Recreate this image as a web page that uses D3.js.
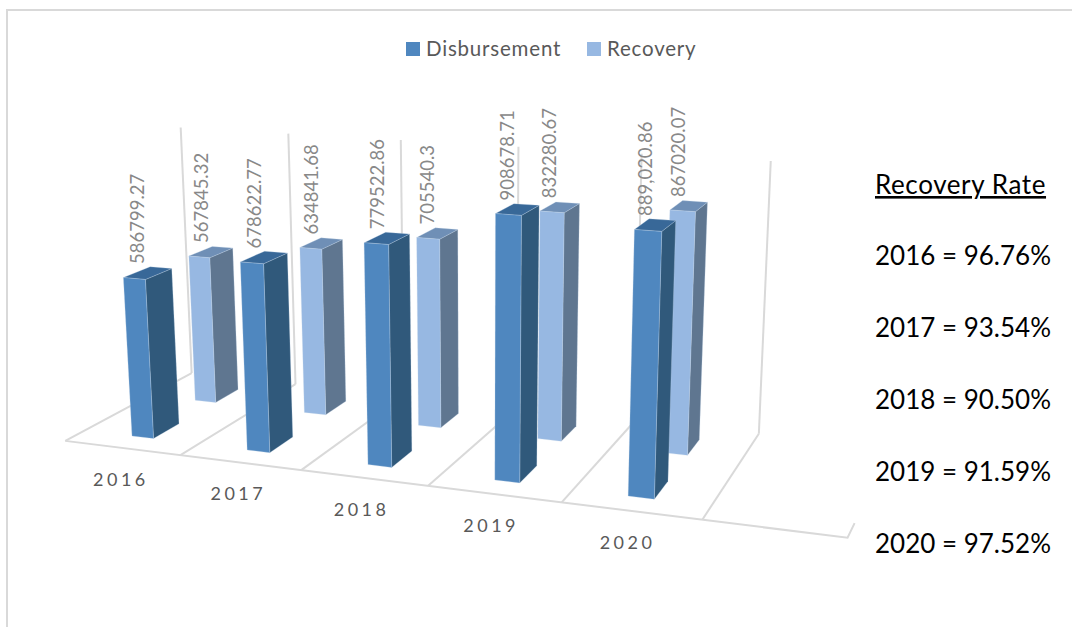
<!DOCTYPE html>
<meta charset='utf-8'>
<html>

<head>
    <title>Disbursement and Recovery</title>
    <script src="https://cdn.jsdelivr.net/npm/d3@7"></script>
    <style>
        body {
            padding: 0;
            margin: 0;
            background: #fff;
        }

        text {
            font-family: Lato, "Open Sans", sans-serif;
        }
    </style>
</head>

<body>
    <svg id="chart" width="1072" height="627"></svg>

    <script>
        const years = ['2016', '2017', '2018', '2019', '2020'];
        const seriesNames = ['Disbursement', 'Recovery'];
        const disbursement = [586799.27, 678622.77, 779522.86, 908678.71, 889020.86];
        const recovery = [567845.32, 634841.68, 705540.3, 832280.67, 867020.07];
        const disbursementLabels = ['586799.27', '678622.77', '779522.86', '908678.71', '889,020.86'];
        const recoveryLabels = ['567845.32', '634841.68', '705540.3', '832280.67', '867020.07'];
        const recoveryRates = ['96.76%', '93.54%', '90.50%', '91.59%', '97.52%'];

        const W = 1072, H = 627;
        const gridColor = '#d9d9d9';

        // colours of each series: front, side, top
        const faces = {
            Disbursement: { front: '#4f87bf', side: '#30597b', top: '#386898' },
            Recovery: { front: '#97b8e2', side: '#5f7690', top: '#6f8fb6' }
        };

        // world axes: x = category units, d = depth (0 front, 1 back), z = share of axis max
        var xScale = d3.scaleBand().domain(years).range([0, 4.98]);
        var zScale = d3.scaleLinear().domain([0, 1000000]).range([0, 1]);
        var depthStart = d3.scaleOrdinal().domain(seriesNames).range([0.14, 0.647]);
        const barDepth = 0.2;
        const barInset = 0.42, barWidth = 0.19;

        // where the chart frame lands on the page, used to fit the camera of the 3D view
        const frameFit = [
            [0, 0, 0, 65, 441], [1, 0, 0, 180, 454], [2, 0, 0, 302, 470],
            [3, 0, 0, 428, 486], [4, 0, 0, 563, 503], [5, 0, 0, 701, 520],
            [0, 1, 0, 192, 373], [1, 1, 0, 295, 385], [5, 1, 0, 759, 433],
            [0, 1, 1, 181, 128], [1, 1, 1, 288, 133], [2, 1, 1, 401, 140],
            [3, 1, 1, 518, 147], [5, 1, 1, 771, 161]
        ];

        function fitCamera(points) {
            var rows = [];
            points.forEach(function (p) {
                var X = p[0], Y = p[1], Z = p[2], u = p[3], v = p[4];
                rows.push([X, Y, Z, 1, 0, 0, 0, 0, -u * X, -u * Y, -u * Z, u]);
                rows.push([0, 0, 0, 0, X, Y, Z, 1, -v * X, -v * Y, -v * Z, v]);
            });
            // normal equations, then plain gaussian elimination
            var n = 11;
            var A = d3.range(n).map(function (i) {
                return d3.range(n + 1).map(function (j) {
                    return d3.sum(rows, function (r) { return r[i] * r[j]; });
                });
            });
            for (var c = 0; c < n; c++) {
                var best = c;
                for (var r = c + 1; r < n; r++) {
                    if (Math.abs(A[r][c]) > Math.abs(A[best][c])) best = r;
                }
                var tmp = A[c]; A[c] = A[best]; A[best] = tmp;
                for (var r2 = 0; r2 < n; r2++) {
                    if (r2 === c) continue;
                    var f = A[r2][c] / A[c][c];
                    for (var k = c; k <= n; k++) A[r2][k] -= f * A[c][k];
                }
            }
            return d3.range(n).map(function (i) { return A[i][n] / A[i][i]; });
        }

        const cam = fitCamera(frameFit);

        function project(x, d, z) {
            var w = cam[8] * x + cam[9] * d + cam[10] * z + 1;
            return [
                (cam[0] * x + cam[1] * d + cam[2] * z + cam[3]) / w,
                (cam[4] * x + cam[5] * d + cam[6] * z + cam[7]) / w
            ];
        }

        var svg = d3.select('#chart');
        var line = d3.line();

        // outer border of the chart area
        svg.append('path')
            .attr('d', line([[7, H], [7, 10], [W, 10]]))
            .attr('fill', 'none')
            .attr('stroke', gridColor)
            .attr('stroke-width', 2);

        // legend
        var legendX = d3.scaleOrdinal().domain(seriesNames).range([406, 587]);
        var legend = svg.selectAll('.legend')
            .data(seriesNames)
            .enter()
            .append('g')
            .attr('class', 'legend')
            .attr('transform', function (d) { return 'translate(' + legendX(d) + ',42)'; });
        legend.append('rect')
            .attr('width', 14)
            .attr('height', 14)
            .attr('fill', function (d) { return faces[d].front; });
        legend.append('text')
            .attr('x', 20)
            .attr('y', 14)
            .attr('font-size', 20.5)
            .attr('letter-spacing', 0.8)
            .attr('fill', '#595959')
            .text(function (d) { return d; });

        // frame: floor lines and back wall
        var frame = svg.append('g')
            .attr('fill', 'none')
            .attr('stroke', gridColor)
            .attr('stroke-width', 2);
        d3.range(0, 6).forEach(function (i) {
            frame.append('path').attr('d', line([project(i, 0, 0), project(i, 1, 0)]));
            frame.append('path').attr('d', line([project(i, 1, 0), project(i, 1, 1)]));
        });
        frame.append('path').attr('d', line([project(0, 0, 0), project(5.98, 0, 0), project(6.02, 0, 0.05)]));

        // category labels sit under the front edge
        svg.selectAll('.year')
            .data(years)
            .enter()
            .append('text')
            .attr('class', 'year')
            .attr('x', function (d) { return project(xScale(d) + xScale.bandwidth() / 2, 0, 0)[0] - 1; })
            .attr('y', function (d) { return project(xScale(d) + xScale.bandwidth() / 2, 0, 0)[1] + 38; })
            .attr('text-anchor', 'middle')
            .attr('font-size', 18)
            .attr('letter-spacing', 3.5)
            .attr('fill', '#595959')
            .text(function (d) { return d; });

        function barRows(name, values, labels) {
            return values.map(function (v, i) {
                return { name: name, year: years[i], value: v, label: labels[i] };
            });
        }

        // back row first so the front row paints over it
        var bars = barRows('Recovery', recovery, recoveryLabels)
            .concat(barRows('Disbursement', disbursement, disbursementLabels));

        function corners(b) {
            var x0 = xScale(b.year) + barInset, x1 = x0 + barWidth;
            var d0 = depthStart(b.name), d1 = d0 + barDepth;
            var z = zScale(b.value);
            return { x0: x0, x1: x1, d0: d0, d1: d1, z: z };
        }

        function facePath(b, side) {
            var c = corners(b);
            var pts;
            if (side === 'front') {
                pts = [project(c.x0, c.d0, 0), project(c.x1, c.d0, 0), project(c.x1, c.d0, c.z), project(c.x0, c.d0, c.z)];
            } else if (side === 'side') {
                pts = [project(c.x1, c.d0, 0), project(c.x1, c.d1, 0), project(c.x1, c.d1, c.z), project(c.x1, c.d0, c.z)];
            } else {
                pts = [project(c.x0, c.d0, c.z), project(c.x1, c.d0, c.z), project(c.x1, c.d1, c.z), project(c.x0, c.d1, c.z)];
            }
            return line(pts) + 'Z';
        }

        var barGroups = svg.selectAll('.bar')
            .data(bars)
            .enter()
            .append('g')
            .attr('class', 'bar');
        ['side', 'top', 'front'].forEach(function (side) {
            barGroups.append('path')
                .attr('d', function (d) { return facePath(d, side); })
                .attr('fill', function (d) { return faces[d.name][side]; })
                .attr('stroke', '#c6d6ea')
                .attr('stroke-opacity', 0.35)
                .attr('stroke-width', 0.8);
        });

        // value labels, turned upright above each bar
        svg.selectAll('.value')
            .data(bars)
            .enter()
            .append('text')
            .attr('class', 'value')
            .attr('transform', function (d) {
                var c = corners(d);
                var p = project((c.x0 + c.x1) / 2, (c.d0 + c.d1) / 2, c.z);
                return 'translate(' + (p[0] - 10) + ',' + (p[1] - 9) + ') rotate(-90)';
            })
            .attr('dy', '0.35em')
            .attr('font-size', 18.5)
            .attr('fill', '#888888')
            .text(function (d) { return d.label; });

        // recovery rate notes on the right
        var notes = svg.append('g').attr('font-size', 26).attr('fill', '#000');
        notes.append('text')
            .attr('x', 875)
            .attr('y', 194)
            .attr('letter-spacing', 0.6)
            .attr('text-decoration', 'underline')
            .text('Recovery Rate');
        var noteY = d3.scalePoint().domain(years).range([265, 553]);
        notes.selectAll('.rate')
            .data(years)
            .enter()
            .append('text')
            .attr('class', 'rate')
            .attr('x', 875)
            .attr('y', function (d) { return noteY(d); })
            .text(function (d, i) { return d + ' = ' + recoveryRates[i]; });
    </script>
</body>

</html>
